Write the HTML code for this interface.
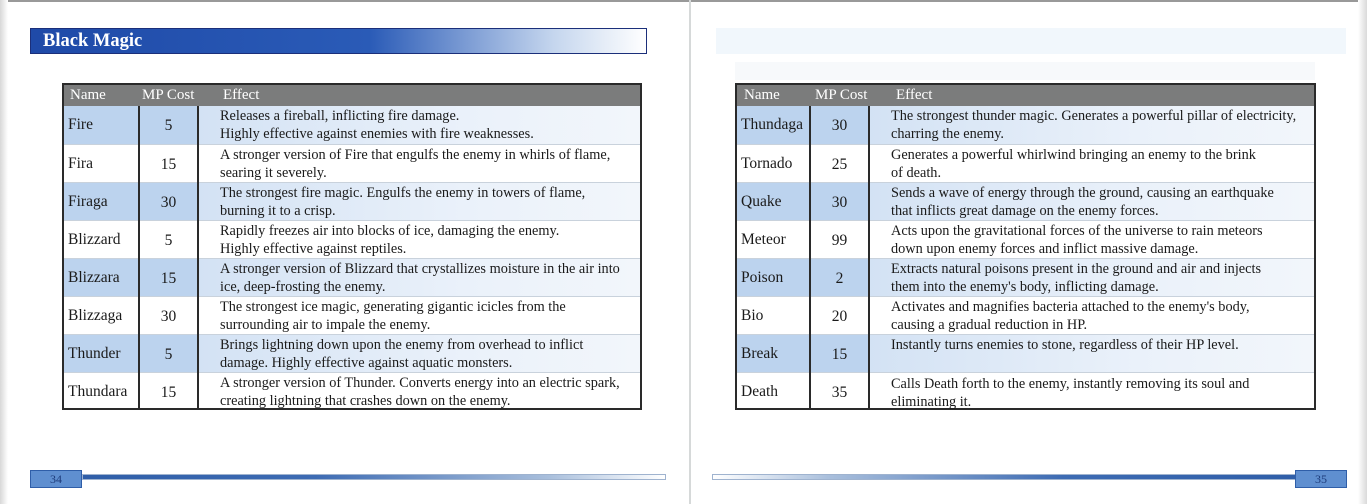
<!DOCTYPE html>
<html><head><meta charset="utf-8"><style>
*{margin:0;padding:0;box-sizing:border-box}
body{width:1367px;height:504px;background:#fff;position:relative;overflow:hidden;font-family:"Liberation Serif",serif;color:#1a1a1a}
.abs{position:absolute}
.tbl{position:absolute;border:2px solid #2a2a2a;top:83px;height:327px;background:#fff}
.hdr{position:absolute;left:0;right:0;top:0;height:21px;background:#7b7c7c;color:#fff;font-size:15px}
.hdr span{position:absolute;top:2px}
.row{position:absolute;left:0;right:0;height:38px;font-size:15.5px;border-top:1px solid #c9d2dc}
.row.hl .c1,.row.hl .c2{background:#bcd3ee}
.row.hl .c3{background:linear-gradient(90deg,#d3e2f4,#eaf1fa 60%,#f2f6fb)}
.c1,.c2,.c3{position:absolute;top:0;bottom:0}
.c1 span{position:absolute;left:4px;top:10px;white-space:nowrap}
.c2{text-align:center}
.c2 span{display:block;margin-top:11px}
.c3 span{position:absolute;left:22px;top:2px;line-height:17.5px;font-size:14.3px;white-space:nowrap}
.vl{position:absolute;top:21px;bottom:0;width:2px;background:#2a2a2a}
</style></head><body>
<div class="abs" style="left:0;top:0;width:1367px;height:2px;background:#999"></div>
<div class="abs" style="left:0;top:0;width:8px;height:504px;background:linear-gradient(90deg,#d8d8d8,#fff)"></div>
<div class="abs" style="left:1358px;top:0;width:9px;height:504px;background:linear-gradient(90deg,#fff,#dadada)"></div>
<div class="abs" style="left:689px;top:0;width:2px;height:504px;background:#d6d9d9"></div>
<div class="abs" style="left:30px;top:28px;width:617px;height:26px;border:1px solid #1b2f7a;background:linear-gradient(90deg,#1f4aa8 0%,#2a5bb7 55%,#c5d6ee 85%,#fff 100%);color:#fff;font-weight:bold;font-size:18.5px;padding:2px 0 0 12px">Black Magic</div>
<div class="abs" style="left:716px;top:28px;width:630px;height:26px;background:#f1f7fc"></div>
<div class="abs" style="left:735px;top:62px;width:580px;height:18px;background:#f7f9fb"></div>

<div class="tbl" style="left:62px;width:580px">
<div class="hdr"><span style="left:6px">Name</span><span style="left:78px">MP Cost</span><span style="left:159px">Effect</span></div>
<div class="row hl" style="top:21px;border-top:none"><div class="c1" style="left:0;width:75px"><span>Fire</span></div><div class="c2" style="left:75px;width:59px"><span>5</span></div><div class="c3" style="left:134px;right:0"><span>Releases a fireball, inflicting fire damage.<br>Highly effective against enemies with fire weaknesses.</span></div></div>
<div class="row" style="top:59px"><div class="c1" style="left:0;width:75px"><span>Fira</span></div><div class="c2" style="left:75px;width:59px"><span>15</span></div><div class="c3" style="left:134px;right:0"><span>A stronger version of Fire that engulfs the enemy in whirls of flame,<br>searing it severely.</span></div></div>
<div class="row hl" style="top:97px"><div class="c1" style="left:0;width:75px"><span>Firaga</span></div><div class="c2" style="left:75px;width:59px"><span>30</span></div><div class="c3" style="left:134px;right:0"><span>The strongest fire magic. Engulfs the enemy in towers of flame,<br>burning it to a crisp.</span></div></div>
<div class="row" style="top:135px"><div class="c1" style="left:0;width:75px"><span>Blizzard</span></div><div class="c2" style="left:75px;width:59px"><span>5</span></div><div class="c3" style="left:134px;right:0"><span>Rapidly freezes air into blocks of ice, damaging the enemy.<br>Highly effective against reptiles.</span></div></div>
<div class="row hl" style="top:173px"><div class="c1" style="left:0;width:75px"><span>Blizzara</span></div><div class="c2" style="left:75px;width:59px"><span>15</span></div><div class="c3" style="left:134px;right:0"><span>A stronger version of Blizzard that crystallizes moisture in the air into<br>ice, deep-frosting the enemy.</span></div></div>
<div class="row" style="top:211px"><div class="c1" style="left:0;width:75px"><span>Blizzaga</span></div><div class="c2" style="left:75px;width:59px"><span>30</span></div><div class="c3" style="left:134px;right:0"><span>The strongest ice magic, generating gigantic icicles from the<br>surrounding air to impale the enemy.</span></div></div>
<div class="row hl" style="top:249px"><div class="c1" style="left:0;width:75px"><span>Thunder</span></div><div class="c2" style="left:75px;width:59px"><span>5</span></div><div class="c3" style="left:134px;right:0"><span>Brings lightning down upon the enemy from overhead to inflict<br>damage. Highly effective against aquatic monsters.</span></div></div>
<div class="row" style="top:287px"><div class="c1" style="left:0;width:75px"><span>Thundara</span></div><div class="c2" style="left:75px;width:59px"><span>15</span></div><div class="c3" style="left:134px;right:0"><span>A stronger version of Thunder. Converts energy into an electric spark,<br>creating lightning that crashes down on the enemy.</span></div></div>
<div class="vl" style="left:74px"></div><div class="vl" style="left:133px"></div>
</div>

<div class="tbl" style="left:735px;width:581px">
<div class="hdr"><span style="left:7px">Name</span><span style="left:78px">MP Cost</span><span style="left:159px">Effect</span></div>
<div class="row hl" style="top:21px;border-top:none"><div class="c1" style="left:0;width:73px"><span>Thundaga</span></div><div class="c2" style="left:73px;width:59px"><span>30</span></div><div class="c3" style="left:132px;right:0"><span>The strongest thunder magic. Generates a powerful pillar of electricity,<br>charring the enemy.</span></div></div>
<div class="row" style="top:59px"><div class="c1" style="left:0;width:73px"><span>Tornado</span></div><div class="c2" style="left:73px;width:59px"><span>25</span></div><div class="c3" style="left:132px;right:0"><span>Generates a powerful whirlwind bringing an enemy to the brink<br>of death.</span></div></div>
<div class="row hl" style="top:97px"><div class="c1" style="left:0;width:73px"><span>Quake</span></div><div class="c2" style="left:73px;width:59px"><span>30</span></div><div class="c3" style="left:132px;right:0"><span>Sends a wave of energy through the ground, causing an earthquake<br>that inflicts great damage on the enemy forces.</span></div></div>
<div class="row" style="top:135px"><div class="c1" style="left:0;width:73px"><span>Meteor</span></div><div class="c2" style="left:73px;width:59px"><span>99</span></div><div class="c3" style="left:132px;right:0"><span>Acts upon the gravitational forces of the universe to rain meteors<br>down upon enemy forces and inflict massive damage.</span></div></div>
<div class="row hl" style="top:173px"><div class="c1" style="left:0;width:73px"><span>Poison</span></div><div class="c2" style="left:73px;width:59px"><span>2</span></div><div class="c3" style="left:132px;right:0"><span>Extracts natural poisons present in the ground and air and injects<br>them into the enemy's body, inflicting damage.</span></div></div>
<div class="row" style="top:211px"><div class="c1" style="left:0;width:73px"><span>Bio</span></div><div class="c2" style="left:73px;width:59px"><span>20</span></div><div class="c3" style="left:132px;right:0"><span>Activates and magnifies bacteria attached to the enemy's body,<br>causing a gradual reduction in HP.</span></div></div>
<div class="row hl" style="top:249px"><div class="c1" style="left:0;width:73px"><span>Break</span></div><div class="c2" style="left:73px;width:59px"><span>15</span></div><div class="c3" style="left:132px;right:0"><span>Instantly turns enemies to stone, regardless of their HP level.</span></div></div>
<div class="row" style="top:287px"><div class="c1" style="left:0;width:73px"><span>Death</span></div><div class="c2" style="left:73px;width:59px"><span>35</span></div><div class="c3" style="left:132px;right:0"><span style="top:3px">Calls Death forth to the enemy, instantly removing its soul and<br>eliminating it.</span></div></div>
<div class="vl" style="left:72px"></div><div class="vl" style="left:131px"></div>
</div>

<div class="abs" style="left:82px;top:474px;width:584px;height:6px;border:1px solid #9fb3cf;background:linear-gradient(90deg,#2f5ea8 0%,#3d6bb3 40%,#a9bfdc 80%,#fff 100%)"></div>
<div class="abs" style="left:30px;top:470px;width:52px;height:18px;background:#5f8fd0;border:1px solid #2f5ea8;color:#1d3b7a;font-size:12px;text-align:center;line-height:16px">34</div>
<div class="abs" style="left:712px;top:474px;width:584px;height:6px;border:1px solid #9fb3cf;background:linear-gradient(270deg,#2f5ea8 0%,#3d6bb3 40%,#a9bfdc 80%,#fff 100%)"></div>
<div class="abs" style="left:1295px;top:470px;width:52px;height:18px;background:#5f8fd0;border:1px solid #2f5ea8;color:#1d3b7a;font-size:12px;text-align:center;line-height:16px">35</div>
</body></html>
